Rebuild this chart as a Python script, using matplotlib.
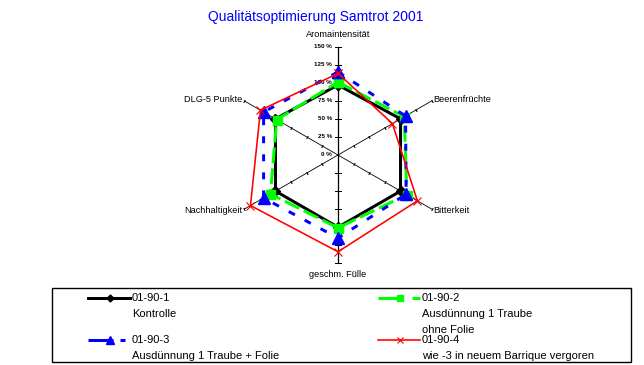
import numpy as np
import matplotlib
matplotlib.use("Agg")
import matplotlib.pyplot as plt
from matplotlib.lines import Line2D
from matplotlib.patches import Rectangle

plt.rcParams['font.family'] = ['Liberation Sans', 'DejaVu Sans']
plt.rcParams['lines.scale_dashes'] = False

# axes clockwise from the top
categories = ["Aromaintensität", "Beerenfrüchte", "Bitterkeit",
              "geschm. Fülle", "Nachhaltigkeit", "DLG-5 Punkte"]
kontrolle = [97, 100, 100, 100, 100, 100]
ausd_ohne_folie = [101, 106, 110, 101, 108, 98]
ausd_folie = [115, 108, 109, 115, 119, 119]
barrique = [113, 87, 127, 134, 140, 124]
series_names = ["01-90-1", "01-90-2", "01-90-3", "01-90-4"]
series_desc = [["Kontrolle"], ["Ausdünnung 1 Traube", "ohne Folie"],
               ["Ausdünnung 1 Traube + Folie"], ["wie -3 in neuem Barrique vergoren"]]
r_ticks = [0, 25, 50, 75, 100, 125, 150]

W, H = 644, 365
PT = 0.72  # points per pixel at dpi 100


def fx(px):
    return px / W


def fy(py):
    return 1 - py / H


fig = plt.figure(figsize=(W / 100, H / 100), dpi=100)
fig.patch.set_facecolor('white')

# radar area: centre at (338,155) px, 150 % = 108 px
cx, cy, rad = 338, 155, 108.3
ax = fig.add_axes([fx(cx - rad), fy(cy + rad), 2 * rad / W, 2 * rad / H], projection='polar')
ax.set_theta_zero_location('N')
ax.set_theta_direction(-1)
ax.set_ylim(0, 150)
ax.set_axis_off()

n = len(categories)
theta = np.deg2rad(np.arange(n) * 360.0 / n)

# spokes with ticks
for i, t in enumerate(theta):
    vert = i in (0, 3)
    ax.plot([t, t], [0, 150], color='black', lw=0.9 if vert else 0.6,
            zorder=1, clip_on=False)
    deg = np.rad2deg(t)
    ax.plot([t] * len(r_ticks[1:]), r_ticks[1:], ls='none', color='black',
            marker=(2, 2, 90 - deg), ms=5 if vert else 2, mew=0.7 if vert else 0.5,
            zorder=1, clip_on=False)

for r in r_ticks:
    ax.annotate(f"{r} %", xy=(0, r), xytext=(-6 * PT, 0), textcoords='offset points',
                ha='right', va='center', fontsize=4.5, fontweight='bold')

# category labels
label_pos = [(0, 167, 'center', 'center'), (theta[1], 153, 'left', 'center'),
             (theta[2], 153, 'left', 'center'), (theta[3], 165, 'center', 'center'),
             (theta[4], 153, 'right', 'center'), (theta[5], 153, 'right', 'center')]
for lab, (t, r, ha, va) in zip(categories, label_pos):
    ax.text(t, r, lab, ha=ha, va=va, fontsize=6.6)

styles = [
    dict(color='black', lw=3 * PT, marker='D', ms=7 * PT, ls='-'),
    dict(color='#00FF00', lw=3 * PT, marker='s', ms=9 * PT, dashes=(11.5, 3.6)),
    dict(color='#0000FF', lw=3 * PT, marker='^', ms=12 * PT, dashes=(5, 8)),
    dict(color='#FF0000', lw=1.6 * PT, marker='x', ms=8 * PT, mew=0.8, ls='-'),
]
# legend handle dash patterns (long dash, gap, short dash)
legend_dashes = [None, (24 * PT, 10 * PT, 8 * PT, 200), (25 * PT, 7 * PT, 5 * PT, 200), None]

data = [kontrolle, ausd_ohne_folie, ausd_folie, barrique]
t_closed = np.append(theta, theta[0])
for k, (vals, st) in enumerate(zip(data, styles)):
    v = np.append(vals, vals[0])
    ax.plot(t_closed, v, zorder=2 + k, clip_on=False, **st)

# title
fig.text(fx(316), fy(17), "Qualitätsoptimierung Samtrot 2001", color='#0000FF',
         ha='center', va='center', fontsize=10)

# legend box
fig.patches.append(Rectangle((fx(52), fy(362)), fx(631) - fx(52), fy(288) - fy(362),
                             transform=fig.transFigure, fill=False, ec='black', lw=1))

leg_pos = [(88, 297.6), (378, 297.6), (88, 340), (378, 340)]
for (hx, hy), st, dsh, name, desc in zip(leg_pos, styles, legend_dashes,
                                         series_names, series_desc):
    line_kw = dict(color=st['color'], lw=st['lw'])
    if dsh is not None:
        line_kw['dashes'] = dsh
    fig.lines.append(Line2D([fx(hx), fx(hx + 42)], [fy(hy), fy(hy)],
                            transform=fig.transFigure, **line_kw))
    fig.lines.append(Line2D([fx(hx + 22)], [fy(hy)], transform=fig.transFigure,
                            color=st['color'], marker=st['marker'], ms=st['ms'] * 0.7,
                            mew=st.get('mew', 1), ls='none'))
    lines = [name] + desc
    for j, txt in enumerate(lines):
        fig.text(fx(hx + 44), fy(hy + 16.2 * j), txt, ha='left', va='center', fontsize=8)

fig.savefig("out.png", dpi=100)
